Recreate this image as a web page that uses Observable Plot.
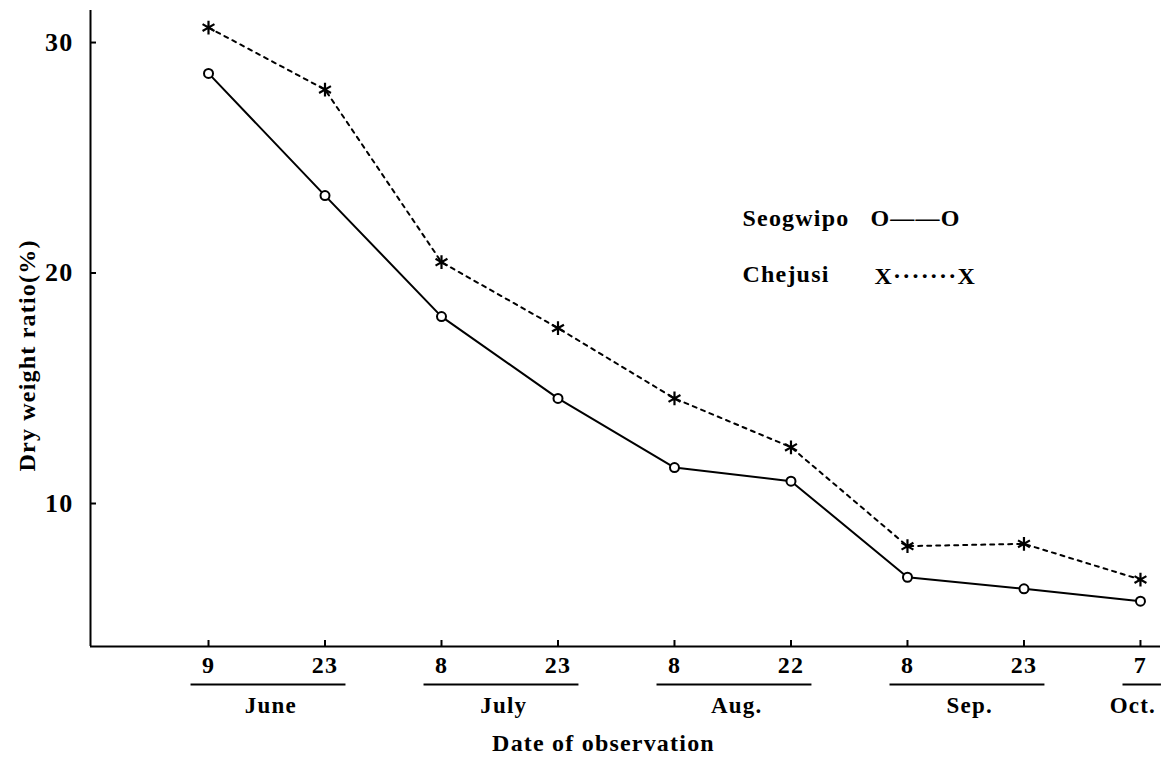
<!DOCTYPE html>
<html><head><meta charset="utf-8">
<script src="https://cdn.jsdelivr.net/npm/d3@7"></script>
<script src="https://cdn.jsdelivr.net/npm/@observablehq/plot@0.6"></script>
<style>body{margin:0;background:#fff} svg{display:block}</style>
</head><body><div id="chart"></div>
<script>
// ---- data ----
const dayLabels = ["9", "23", "8", "23", "8", "22", "8", "23", "7"];
const seogwipo = [28.66, 23.36, 18.11, 14.56, 11.56, 10.97, 6.80, 6.30, 5.76];
const chejusi = [30.65, 27.96, 20.47, 17.61, 14.56, 12.44, 8.15, 8.25, 6.70];
const monthNames = ["June", "July", "Aug.", "Sep.", "Oct."];
const monthStart = [0, 2, 4, 6, 8];
const monthEnd = [1, 3, 5, 7, 8];
const yTicks = [10, 20, 30];
const legendNames = ["Seogwipo", "Chejusi"];
const legendKeys = ["O——O", "X·······X"];
const yTitle = "Dry weight ratio(%)";
const xTitle = "Date of observation";

// ---- chart ----
const idx = d3.range(dayLabels.length);
const mIdx = d3.range(monthNames.length);
const X0 = -1.013, X1 = 8.172, Y0 = 3.796, Y1 = 31.39;
const serif = "'Liberation Serif', 'Times New Roman', serif";

const chart = Plot.plot({
  width: 1164, height: 758,
  marginLeft: 90, marginRight: 4, marginTop: 10, marginBottom: 112,
  style: {fontFamily: serif, background: "#fff", color: "#000", overflow: "visible"},
  x: {domain: [X0, X1]},
  y: {domain: [Y0, Y1]},
  marks: [
    Plot.ruleX([X0], {strokeWidth: 2}),
    Plot.ruleY([Y0], {strokeWidth: 2}),
    Plot.axisY({ticks: yTicks, tickSize: -6, tickPadding: 23, fontSize: 26, fontWeight: "bold", label: null, strokeWidth: 2}),
    Plot.axisX({ticks: idx, tickFormat: i => dayLabels[i], tickSize: -6, tickPadding: 15, fontSize: 24, fontWeight: "bold", label: null, strokeWidth: 2}),
    // month underlines and names
    Plot.ruleY(mIdx, {y: () => Y0, x1: i => monthStart[i] - 0.15, x2: i => monthEnd[i] + 0.18, dy: 38, strokeWidth: 2}),
    Plot.text(mIdx, {
      x: i => monthStart[i] === monthEnd[i] ? monthStart[i] - 0.1 : (monthStart[i] + monthEnd[i]) / 2,
      y: () => Y0, dy: 59, dx: 4, text: i => monthNames[i],
      fontSize: 23, fontWeight: "bold", lineAnchor: "middle"
    }),
    // series
    Plot.line(idx, {x: i => i, y: i => chejusi[i], stroke: "#000", strokeWidth: 2, strokeDasharray: "4,5"}),
    Plot.line(idx, {x: i => i, y: i => seogwipo[i], stroke: "#000", strokeWidth: 2}),
    Plot.dot(idx, {x: i => i, y: i => chejusi[i], symbol: "asterisk", r: 6.5, stroke: "#000", strokeWidth: 2.2}),
    Plot.dot(idx, {x: i => i, y: i => seogwipo[i], r: 4.5, fill: "#fff", stroke: "#000", strokeWidth: 2}),
    // titles
    Plot.text([yTitle], {frameAnchor: "left", text: d => d, rotate: -90, dx: -63, dy: 143, fontSize: 24, fontWeight: "bold"}),
    Plot.text([xTitle], {frameAnchor: "bottom", text: d => d, dx: -22, dy: 97, fontSize: 24, fontWeight: "bold", lineAnchor: "middle"}),
    // legend
    ...legendNames.flatMap((name, k) => [
      Plot.text([name], {frameAnchor: "top-left", text: d => d, textAnchor: "start", dx: 652, dy: 208 + k * 56, fontSize: 24, fontWeight: "bold", lineAnchor: "middle"}),
      Plot.text([legendKeys[k]], {frameAnchor: "top-left", text: d => d, textAnchor: "start", dx: 780 + k * 4, dy: 208 + k * 58, fontSize: 24, fontWeight: "bold", lineAnchor: "middle"})
    ])
  ]
});
chart.querySelectorAll("text").forEach(t => t.style.letterSpacing = "1.2px");
document.getElementById("chart").append(chart);
</script>
</body></html>
